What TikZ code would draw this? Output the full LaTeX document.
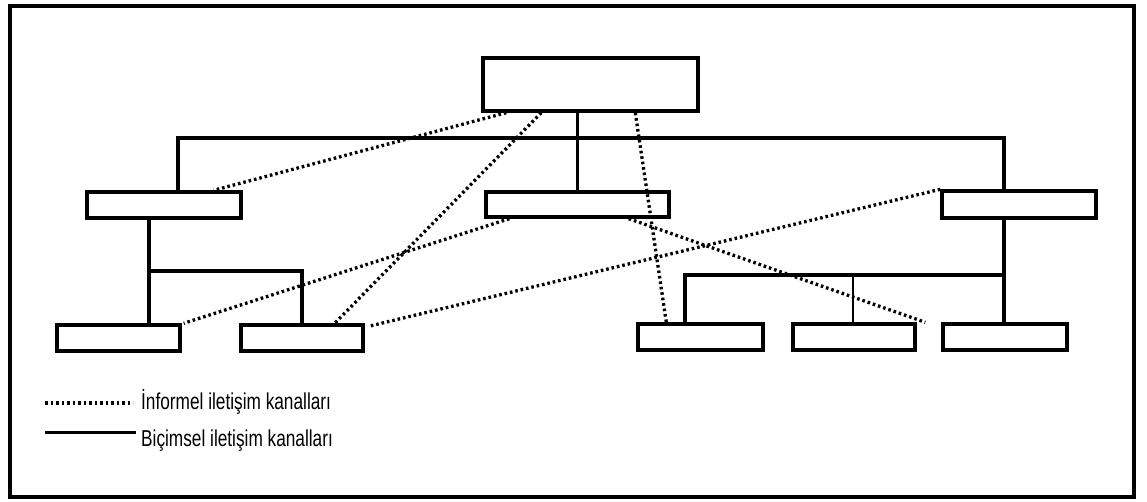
\documentclass[tikz,border=0pt]{standalone}
\usepackage{fontspec}
\setmainfont{Liberation Sans}[FakeStretch=0.75]
\begin{document}
\begin{tikzpicture}[x=1pt,y=-1pt,
  unit/.style={draw=black, line width=3.4pt, fill=white, inner sep=0pt, minimum height=26pt},
  formal/.style={line width=3.4pt, line join=miter},
  thinformal/.style={line width=2.2pt},
  informal/.style={line width=3.3pt, dash pattern=on 2.6pt off 2.9pt},
  legendtext/.style={anchor=base west, inner sep=0pt, font=\fontsize{23}{26}\selectfont}
]
\useasboundingbox (0,0) rectangle (1147,502);
\draw[line width=3.4pt] (10,6) rectangle (1134,497);

% organisation units
\node[unit, minimum width=215pt, minimum height=53pt] (top) at (590.5,84.5) {};
\node[unit, minimum width=154pt] (midL) at (164,205) {};
\node[unit, minimum width=183pt, minimum height=25pt] (midC) at (577.5,204.5) {};
\node[unit, minimum width=154pt, minimum height=27pt] (midR) at (1019,204.5) {};
\node[unit, minimum width=123pt] (b1) at (118.5,338) {};
\node[unit, minimum width=122pt] (b2) at (302,338) {};
\node[unit, minimum width=125pt] (b3) at (700.5,337) {};
\node[unit, minimum width=122pt] (b4) at (854,337) {};
\node[unit, minimum width=124pt] (b5) at (1005,337) {};

% formal channels
\coordinate (busL) at (178,138);
\coordinate (busR) at (1004,138);
\coordinate (jL) at (149,271);
\coordinate (jLr) at (302,271);
\coordinate (jR) at (1004,275);
\coordinate (jRl) at (685,275);
\coordinate (jRm) at (853,273);
\draw[formal] (midL.north -| busL) -- (busL) -- (busR) -- (midR.north -| busR);
\draw[formal] (top.south -| midC.north) -- (midC.north);
\draw[formal] (midL.south -| jL) -- (b1.north -| jL);
\draw[formal] (jL) -- (jLr) -- (b2.north);
\draw[formal] (midR.south -| jR) -- (b5.north -| jR);
\draw[formal] (jR) -- (jRl) -- (b3.north -| jRl);
\draw[thinformal] (jRm) -- (b4.north -| jRm);

% informal channels
\draw[informal] ([xshift=25pt]top.south west) -- ([xshift=-29pt]midL.north east);
\draw[informal] ([xshift=60pt]top.south west) -- ([xshift=-30pt]b2.north east);
\draw[informal] ([xshift=154pt]top.south west) -- ([xshift=30pt]b3.north west);
\draw[informal] ([xshift=25pt]midC.south west) -- ([xshift=2pt]b1.north east);
\draw[informal] ([xshift=-42pt]midC.south east) -- ([xshift=-16pt]b5.north west);
\draw[informal] (midR.north west) -- ([xshift=4pt,yshift=-3pt]b2.north east);

% legend
\coordinate (l1a) at (45,403);
\coordinate (l1b) at (133,403);
\coordinate (l2a) at (45,432);
\coordinate (l2b) at (136,432);
\draw[informal] (l1a) -- (l1b);
\draw[line width=3pt] (l2a) -- (l2b);
\node[legendtext] (leg1) at (141,409) {İnformel iletişim kanalları};
\node[legendtext] (leg2) at (141,446) {Biçimsel iletişim kanalları};
\end{tikzpicture}
\end{document}
